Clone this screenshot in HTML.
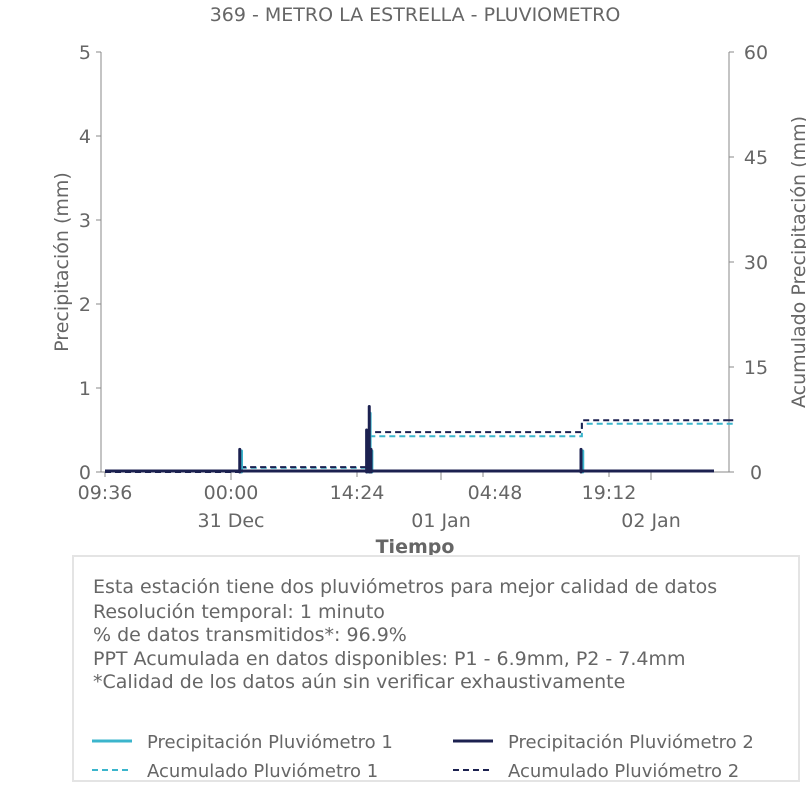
<!DOCTYPE html>
<html><head><meta charset="utf-8"><style>
body{margin:0;background:#fff;}
svg{display:block;font-family:"DejaVu Sans","Liberation Sans",sans-serif;}
</style></head><body>
<svg id="c" width="806" height="806" viewBox="0 0 806 806">
<text x="415" y="21" font-size="19" fill="#666" text-anchor="middle">369 - METRO LA ESTRELLA - PLUVIOMETRO</text>
<g id="axes"></g>
<g id="marks"></g>
<rect x="73" y="556" width="726" height="225" fill="#fff" stroke="#e4e4e4" stroke-width="2"/>
<g font-size="19" fill="#666">
<text x="93" y="593">Esta estación tiene dos pluviómetros para mejor calidad de datos</text>
<text x="93" y="618">Resolución temporal: 1 minuto</text>
<text x="93" y="641">% de datos transmitidos*: 96.9%</text>
<text x="93" y="665">PPT Acumulada en datos disponibles: P1 - 6.9mm, P2 - 7.4mm</text>
<text x="93" y="688">*Calidad de los datos aún sin verificar exhaustivamente</text>
</g>
<g font-size="18" fill="#666">
<g><line x1="92" y1="741" x2="132" y2="741" stroke="#3bb5cc" stroke-width="3"/><text x="147" y="748">Precipitación Pluviómetro 1</text></g>
<g><line x1="453" y1="741" x2="493" y2="741" stroke="#1c2150" stroke-width="3"/><text x="508" y="748">Precipitación Pluviómetro 2</text></g>
<g><line x1="92" y1="770" x2="132" y2="770" stroke="#3bb5cc" stroke-width="2" stroke-dasharray="6,4"/><text x="147" y="777">Acumulado Pluviómetro 1</text></g>
<g><line x1="453" y1="770" x2="493" y2="770" stroke="#1c2150" stroke-width="2" stroke-dasharray="6,4"/><text x="508" y="777">Acumulado Pluviómetro 2</text></g>
</g>
</svg>
<script>
// time in hours since 30 Dec 09:36
const spikeTimesP1=[15.6,30.0,30.3,30.5,54.6];
const spikeValsP1=[0.25,0.45,0.7,0.25,0.25];
const spikeTimesP2=[15.4,29.9,30.2,30.4,54.4];
const spikeValsP2=[0.27,0.5,0.78,0.27,0.27];
const accTimes=[0,15.5,30.2,54.5,71.8];
const accP1=[0,0.6,5.1,6.9,6.9];
const accP2=[0,0.7,5.7,7.4,7.4];
const leftTicks=[0,1,2,3,4,5];
const rightTicks=[0,15,30,45,60];
const minorTimes=[0,14.4,28.8,43.2,57.6];
const minorLabels=["09:36","00:00","14:24","04:48","19:12"];
const dayTimes=[14.4,38.4,62.4];
const dayLabels=["31 Dec","01 Jan","02 Jan"];
const lineEnd=69.6;

const NS="http://www.w3.org/2000/svg";
const X0=101,X1=729,Y0=472,Y1=52;
const x=t=>105+t*8.75;
const yL=v=>Y0-v*(Y0-Y1)/5;
const yR=v=>Y0-v*(Y0-Y1)/60;
function mk(p,tag,a){const e=document.createElementNS(NS,tag);for(const k in a)e.setAttribute(k,a[k]);p.appendChild(e);return e;}
const ax=document.getElementById('axes'),mg=document.getElementById('marks');
let e;
e=mk(ax,'line',{x1:X0,y1:Y1,x2:X0,y2:Y0,stroke:'#888'});

e=mk(ax,'line',{x1:X1,y1:Y1,x2:X1,y2:Y0,stroke:'#888'});

e=mk(ax,'line',{x1:X0,y1:Y0,x2:X1,y2:Y0,stroke:'#888'});

leftTicks.forEach(v=>{mk(ax,'line',{x1:X0-5,y1:yL(v),x2:X0,y2:yL(v),stroke:'#888'});
 e=mk(ax,'text',{x:X0-10,y:yL(v)+7,'font-size':19,fill:'#666','text-anchor':'end'});e.textContent=v;
 });
rightTicks.forEach(v=>{mk(ax,'line',{x1:X1,y1:yR(v),x2:X1+5,y2:yR(v),stroke:'#888'});
 e=mk(ax,'text',{x:X1+27,y:yR(v)+7,'font-size':19,fill:'#666','text-anchor':'middle'});e.textContent=v;
 });
minorTimes.forEach((t,i)=>{mk(ax,'line',{x1:x(t),y1:Y0,x2:x(t),y2:Y0+5,stroke:'#888'});
 e=mk(ax,'text',{x:x(t)+(i==3?12:0),y:Y0+27,'font-size':19,fill:'#666','text-anchor':'middle'});e.textContent=minorLabels[i];
 });
dayTimes.forEach((t,i)=>{mk(ax,'line',{x1:x(t),y1:Y0,x2:x(t),y2:Y0+8,stroke:'#888'});
 e=mk(ax,'text',{x:x(t),y:Y0+55,'font-size':19,fill:'#666','text-anchor':'middle'});e.textContent=dayLabels[i];
 });
e=mk(ax,'text',{x:415,y:553,'font-size':19,'font-weight':'bold',fill:'#666','text-anchor':'middle'});e.textContent='Tiempo';

e=mk(ax,'text',{x:68,y:262,'font-size':19,fill:'#666','text-anchor':'middle',transform:'rotate(-90 68 262)'});e.textContent='Precipitación (mm)';

e=mk(ax,'text',{x:805,y:262,'font-size':19,fill:'#666','text-anchor':'middle',transform:'rotate(-90 805 262)'});e.textContent='Acumulado Precipitación (mm)';


function step(ts,vs,color,name){let d='M'+x(ts[0])+','+yR(vs[0]);
 for(let i=1;i<ts.length;i++){d+=' L'+x(ts[i])+','+yR(vs[i-1])+' L'+x(ts[i])+','+yR(vs[i]);}
 d+=' L'+X1+','+yR(vs[vs.length-1]);
 e=mk(mg,'path',{d:d,fill:'none',stroke:color,'stroke-width':2,'stroke-dasharray':'6,4'});
 }
step(accTimes,accP1,'#3bb5cc','acum-p1-line');
step(accTimes,accP2,'#1c2150','acum-p2-line');
function spikes(ts,vs,color,name){
 e=mk(mg,'line',{x1:x(0),y1:Y0-1,x2:x(lineEnd),y2:Y0-1,stroke:color,'stroke-width':3});
 
 ts.forEach((t,i)=>{e=mk(mg,'line',{x1:x(t),y1:Y0,x2:x(t),y2:yL(vs[i]),stroke:color,'stroke-width':3,'stroke-linecap':'round'});
 });}
spikes(spikeTimesP1,spikeValsP1,'#3bb5cc','precip-p1');
spikes(spikeTimesP2,spikeValsP2,'#1c2150','precip-p2');
</script>
</body></html>
